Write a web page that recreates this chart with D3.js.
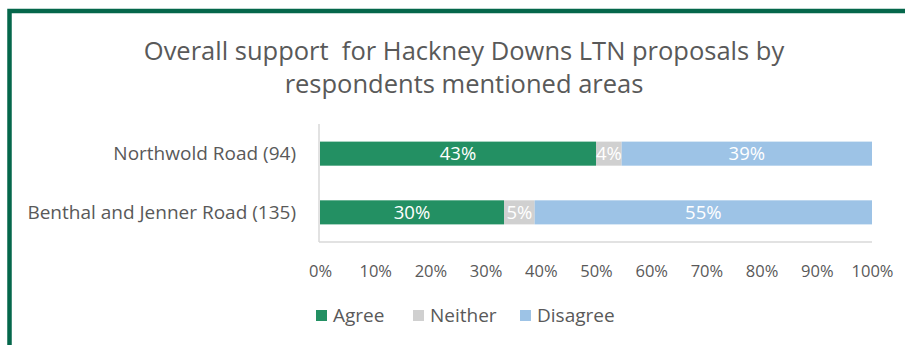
<!DOCTYPE html>
<html>
<head>
<meta charset="utf-8">
<script src="https://cdn.jsdelivr.net/npm/d3@7"></script>
<style>
  html, body { margin: 0; padding: 0; background: #fff; }
  svg { display: block; font-family: "Open Sans", "Noto Sans", sans-serif; }
</style>
</head>
<body>
<svg id="chart" width="905" height="345"></svg>
<script>
// Respondent groups and their answer shares (percent)
const categories = ["Northwold Road (94)", "Benthal and Jenner Road (135)"];
const agree = [43, 30];
const neither = [4, 5];
const disagree = [39, 55];
const seriesNames = ["Agree", "Neither", "Disagree"];
const seriesColors = ["#239063", "#d0d0d0", "#9dc3e6"];
const tickValues = [0, 0.1, 0.2, 0.3, 0.4, 0.5, 0.6, 0.7, 0.8, 0.9, 1];
const titleLines = ["Overall support\u00a0 for Hackney Downs LTN proposals by", "respondents mentioned areas"];

const rows = categories.map((c, i) => ({
  category: c, Agree: agree[i], Neither: neither[i], Disagree: disagree[i]
}));

const svg = d3.select("#chart");
const W = 905, H = 345;
const FONT = "\"Open Sans\", \"Noto Sans\", sans-serif";

// Frame: green border on the top and left edges
svg.append("path")
  .attr("d", `M9.5,${H} L9.5,11 L${W},11`)
  .attr("fill", "none")
  .attr("stroke", "#05674b")
  .attr("stroke-width", 4.5);

// Title
const title = svg.append("text")
  .attr("text-anchor", "middle")
  .attr("fill", "#595959")
  .style("font-size", "25.5px");
titleLines.forEach((t, i) => {
  title.append("tspan").attr("x", 464).attr("y", 60 + i * 33).text(t);
});

// Scales
const x = d3.scaleLinear().domain([0, 1]).range([320, 872]);
const y = d3.scaleBand().domain(categories).range([124, 242])
  .paddingInner(0.59).paddingOuter(0.3);
const color = d3.scaleOrdinal().domain(seriesNames).range(seriesColors);

// 100% stacked layout
const stacked = d3.stack().keys(seriesNames).offset(d3.stackOffsetExpand)(rows);

// Bars
const layers = svg.append("g").selectAll("g")
  .data(stacked).join("g")
  .attr("fill", d => color(d.key));

layers.selectAll("rect")
  .data(d => d.map(v => ({ v, key: d.key })))
  .join("rect")
  .attr("x", d => x(d.v[0]))
  .attr("y", d => y(d.v.data.category))
  .attr("width", d => x(d.v[1]) - x(d.v[0]))
  .attr("height", y.bandwidth());

// Value labels inside segments
layers.selectAll("text")
  .data(d => d.map(v => ({ v, key: d.key })))
  .join("text")
  .attr("x", d => (x(d.v[0]) + x(d.v[1])) / 2)
  .attr("y", d => y(d.v.data.category) + y.bandwidth() / 2)
  .attr("dy", "0.36em")
  .attr("text-anchor", "middle")
  .attr("fill", "#ffffff")
  .style("font-size", "18.5px")
  .text(d => d.v.data[d.key] + "%");

// Bottom axis
const xAxis = svg.append("g")
  .attr("transform", "translate(0,242)")
  .call(d3.axisBottom(x).tickValues(tickValues).tickFormat(d3.format(".0%")).tickSize(0).tickSizeOuter(0));
xAxis.select(".domain").attr("stroke", "#d9d9d9").attr("stroke-width", 1.5).attr("d", "M319,0H872");
xAxis.selectAll("text")
  .attr("y", 35).attr("dy", 0)
  .attr("fill", "#595959")
  .style("font-family", FONT)
  .style("font-size", "16.5px");

// Left axis
const yAxis = svg.append("g")
  .attr("transform", "translate(319,0)")
  .call(d3.axisLeft(y).tickSize(0).tickSizeOuter(0).tickPadding(23));
yAxis.select(".domain").attr("stroke", "#d9d9d9").attr("stroke-width", 1.5).attr("d", "M0,124V242");
yAxis.selectAll("text")
  .attr("fill", "#595959")
  .attr("dy", "0.33em")
  .style("font-family", FONT)
  .style("font-size", "19px");

// Legend
const legendX = [316, 413, 520];
const legend = svg.append("g").selectAll("g")
  .data(seriesNames).join("g")
  .attr("transform", (d, i) => `translate(${legendX[i]},310)`);
legend.append("rect")
  .attr("width", 11).attr("height", 11)
  .attr("fill", d => color(d));
legend.append("text")
  .attr("x", 17).attr("y", 12)
  .attr("fill", "#595959")
  .style("font-size", "19px")
  .text(d => d);
</script>
</body>
</html>
